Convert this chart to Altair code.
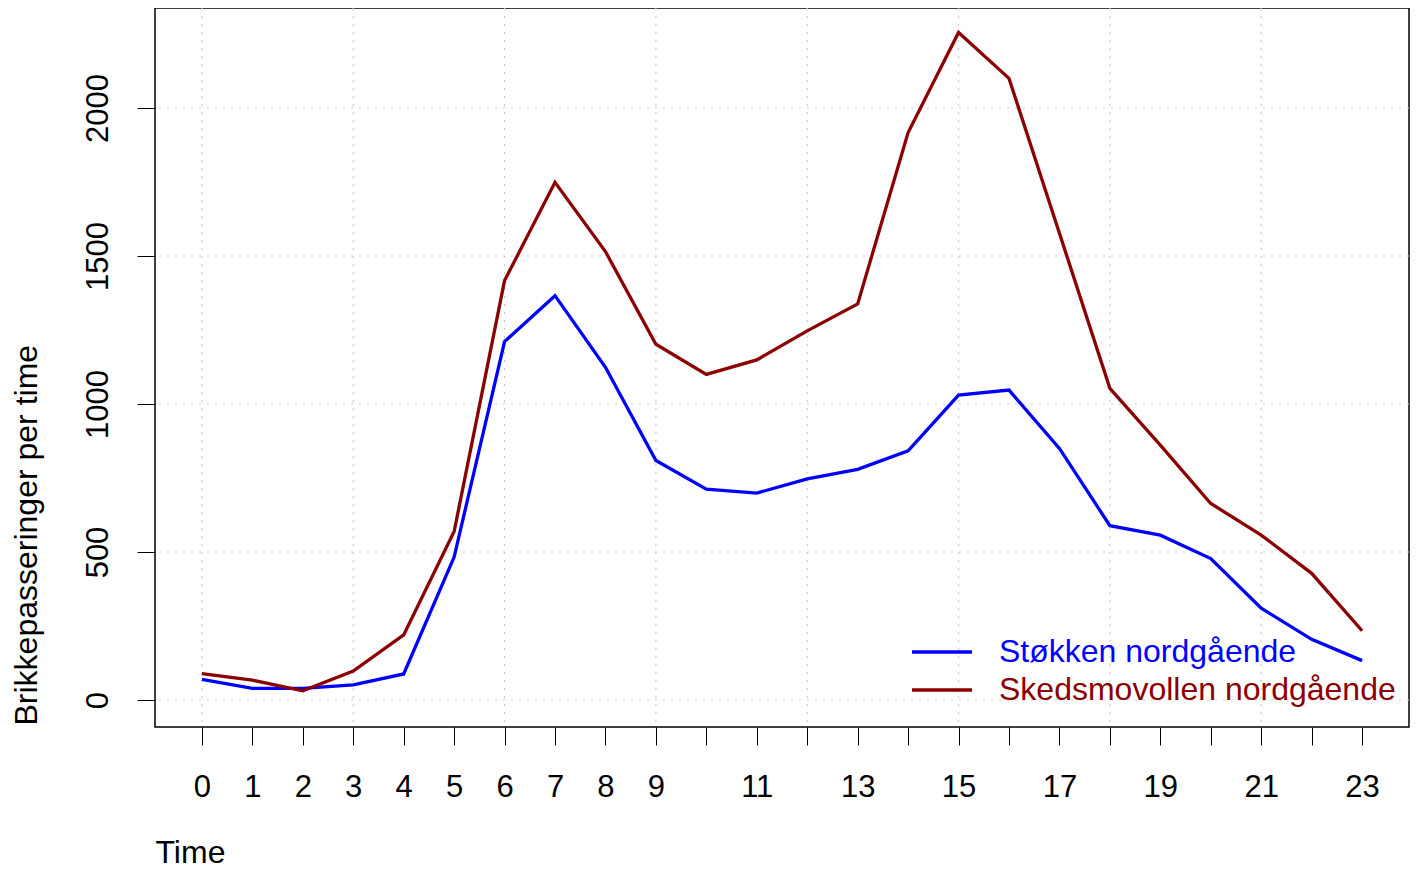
import altair as alt
import pandas as pd

hours = list(range(24))
stokken = [70, 39, 39, 51, 88, 483, 1211, 1366, 1124, 809, 712, 699, 747, 779,
           842, 1030, 1047, 850, 589, 557, 478, 310, 205, 133]
skedsmo = [89, 67, 31, 98, 220, 569, 1417, 1749, 1515, 1202, 1100, 1149, 1247, 1338,
           1917, 2255, 2100, 1577, 1053, 861, 664, 557, 428, 234]
series_names = ["Støkken nordgående", "Skedsmovollen nordgående"]
series_colors = ["#0000FF", "#8B0000"]
grid_x = [0, 3, 6, 9, 12, 15, 18, 21]
grid_y = [0, 500, 1000, 1500, 2000]
x_ticks = list(range(24))
y_ticks = [0, 500, 1000, 1500, 2000]

df = pd.DataFrame({
    "Time": hours * 2,
    "value": stokken + skedsmo,
    "serie": [series_names[0]] * 24 + [series_names[1]] * 24,
})

FONT = "Liberation Sans"
W, H = 1254, 719
xscale = alt.Scale(domain=[-0.93, 23.93], nice=False, zero=False)
yscale = alt.Scale(domain=[-91.2, 2337.8], nice=False, zero=False)

xaxis = alt.Axis(values=x_ticks, title="Time", grid=False, domain=False,
                 tickSize=18, tickColor="black", tickWidth=1,
                 labelFontSize=31, labelFont=FONT, labelColor="black",
                 labelPadding=27, labelFlush=False, labelOverlap=False,
                 labelExpr="(datum.value <= 9 || datum.value % 2 == 1) ? datum.label : ''",
                 titleFont=FONT, titleFontSize=32, titleFontWeight="normal",
                 titleColor="black", titleAnchor="start", titleAlign="left",
                 titleBaseline="middle", titleX=0, titleY=125)
yaxis = alt.Axis(values=y_ticks, format="d", title="Brikkepasseringer per time", grid=False,
                 domain=False, tickSize=18, tickColor="black", tickWidth=1,
                 labelFontSize=31, labelFont=FONT, labelColor="black",
                 labelAngle=270, labelPadding=23, labelFlush=False,
                 labelOverlap=False,
                 titleFont=FONT, titleFontSize=32, titleFontWeight="normal",
                 titleColor="black", titleAngle=270, titleAlign="left",
                 titleBaseline="middle", titleX=-129, titleY=717)

gx = alt.Chart(pd.DataFrame({"Time": grid_x})).mark_rule(
    color="#cccccc", strokeWidth=1.2, strokeDash=[2, 6]
).encode(x=alt.X("Time:Q", scale=xscale, axis=xaxis))

gy = alt.Chart(pd.DataFrame({"value": grid_y})).mark_rule(
    color="#cccccc", strokeWidth=1.2, strokeDash=[2, 6]
).encode(y=alt.Y("value:Q", scale=yscale, axis=yaxis))

lines = alt.Chart(df).mark_line(strokeWidth=3.3).encode(
    x=alt.X("Time:Q", scale=xscale, axis=xaxis),
    y=alt.Y("value:Q", scale=yscale, axis=yaxis),
    color=alt.Color("serie:N",
                    scale=alt.Scale(domain=series_names, range=series_colors),
                    legend=alt.Legend(orient="none", legendX=771, legendY=628,
                                      title=None, symbolType="M-3,0H3", symbolSize=400,
                                      symbolStrokeWidth=3.3, labelFontSize=32,
                                      labelFont=FONT, labelOffset=41, rowPadding=6,
                                      padding=0, symbolOffset=0, labelLimit=0,
                                      labelColor=alt.ExprRef(
                                          "datum.label == 'Støkken nordgående' ? '#0000FF' : '#8B0000'"))),
    detail="serie:N",
)

chart = alt.layer(gx, gy, lines).properties(
    width=W, height=H,
    autosize=alt.AutoSizeParams(type="none"),
    padding={"left": 147, "top": 0, "right": 1, "bottom": 143},
    background="white",
).configure_view(stroke="black", strokeWidth=1.5)

chart.save("out.html", embed_options={"renderer": "svg", "actions": False})
